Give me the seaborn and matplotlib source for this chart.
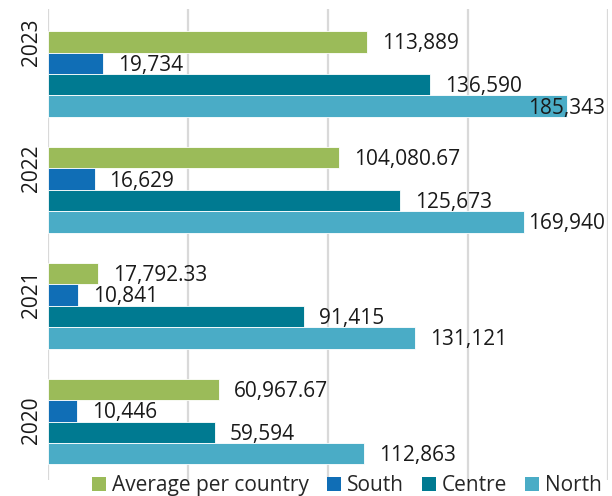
import matplotlib
matplotlib.use("Agg")
import matplotlib.pyplot as plt
import seaborn as sns
import pandas as pd
from matplotlib.patches import Patch

years = ['2023', '2022', '2021', '2020']
series = ['Average per country', 'South', 'Centre', 'North']
average = [113889, 104080.67, 17792.33, 60967.67]
south = [19734, 16629, 10841, 10446]
centre = [136590, 125673, 91415, 59594]
north = [185343, 169940, 131121, 112863]
colors = ['#9BBB59', '#106EB6', '#007A91', '#4AACC6']

rows = []
for s, vals in zip(series, [average, south, centre, north]):
    for y, v in zip(years, vals):
        rows.append({'year': y, 'series': s, 'value': v})
df = pd.DataFrame(rows)

sns.set_style('white')
plt.rcParams['font.family'] = ['Open Sans', 'DejaVu Sans']
FS = 15

fig = plt.figure(figsize=(6.12, 4.96), dpi=100)
ax = fig.add_axes([48 / 612, 1 - 480 / 496, 560 / 612, (480 - 9) / 496])

sns.barplot(data=df, y='year', x='value', hue='series', order=years,
            hue_order=series, palette=colors, orient='h', width=0.74,
            ax=ax, legend=False, edgecolor='white', linewidth=0.6,
            saturation=1)

ax.set_xlim(0, 200000)
ax.set_xticks([0, 50000, 100000, 150000, 200000])
ax.set_xticklabels([])
ax.grid(axis='x', color='#D9D9D9', linewidth=1.6)
ax.grid(axis='y', visible=False)
ax.set_axisbelow(True)
for sp in ax.spines.values():
    sp.set_visible(False)
ax.set_xlabel('')
ax.set_ylabel('')
ax.set_ylim(3.505, -0.561)

tick_pos = [-0.272 + 1.087 * i for i in range(len(years))]
ax.set_yticks(tick_pos)
ax.set_yticklabels(years, rotation=90, va='center', fontsize=FS, color='#1a1a1a')
ax.tick_params(axis='both', length=0)
ax.tick_params(axis='y', pad=4)

def fmt(v):
    if float(v).is_integer():
        return f'{v:,.0f}'
    return f'{v:,.2f}'

texts = []
for cont, vals in zip(ax.containers, [average, south, centre, north]):
    for patch, v in zip(cont.patches, vals):
        yc = patch.get_y() + patch.get_height() / 2
        t = ax.annotate(fmt(v), xy=(patch.get_width(), yc), xytext=(15, -2),
                        textcoords='offset pixels', va='center', ha='left',
                        fontsize=FS, color='#1a1a1a', annotation_clip=False)
        texts.append(t)

fig.canvas.draw()
r = fig.canvas.get_renderer()
limit = 605
for t in texts:
    bb = t.get_window_extent(r)
    if bb.x1 > limit:
        ox, oy = t.xyann
        t.xyann = (ox - (bb.x1 - limit), oy)

handles = [Patch(facecolor=c, edgecolor='none') for c in colors]
fig.legend(handles, series, loc='lower center', bbox_to_anchor=(0.567, -0.038),
           ncol=4, frameon=False, fontsize=FS, handlelength=0.67,
           handleheight=0.67, handletextpad=0.3, columnspacing=0.85)

fig.savefig('out.png', dpi=100)
